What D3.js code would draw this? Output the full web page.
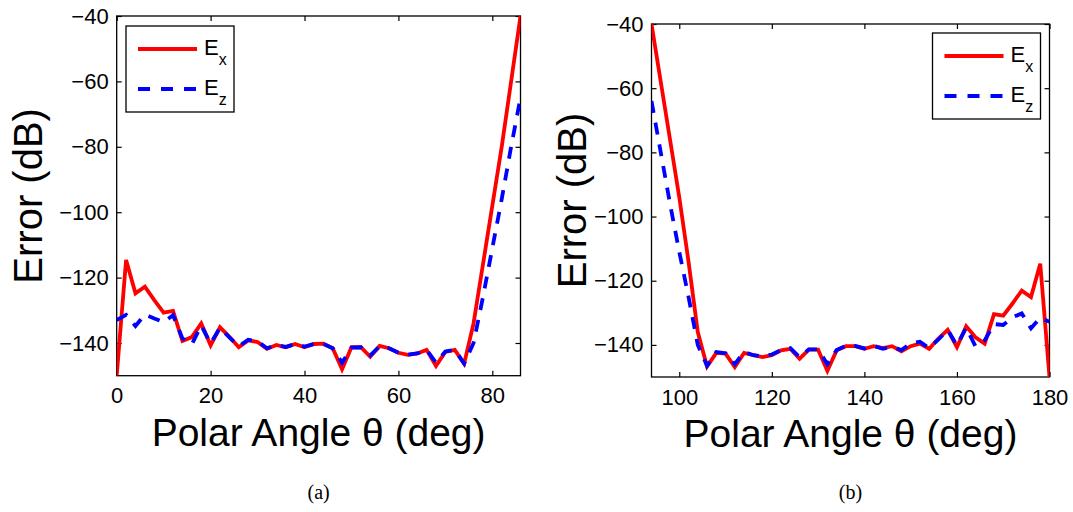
<!DOCTYPE html>
<html>
<head>
<meta charset="utf-8">
<script src="https://cdn.jsdelivr.net/npm/d3@7"></script>
<style>
  body { margin: 0; background: #fff; }
  svg { display: block; }
  .tick text { font-family: "Liberation Sans", Arial, sans-serif; font-size: 22px; fill: #000; }
  .domain, .tick line { stroke: #000; stroke-width: 1.2; }
</style>
</head>
<body>
<script>
// polar angle samples (deg) and error values (dB)
const thetaA = [0, 2, 4, 6, 8, 10, 12, 14, 16, 18, 20, 22, 24, 26, 28, 30, 32, 34, 36, 38, 40, 42,
  44, 46, 48, 50, 52, 54, 56, 58, 60, 62, 64, 66, 68, 70, 72, 74, 76, 78, 80, 82, 84, 86];
const exA = [-150, -114.6, -124.8, -122.8, -126.9, -130.7, -130.2, -139.4, -138.2, -134, -140.7, -135.2,
  -138.1, -141.3, -139.2, -139.7, -141.8, -140.6, -141.3, -140.3, -141.3, -140.3,
  -140.2, -141.6, -148, -141.3, -141.3, -144.2, -140.9, -141.6, -143, -143.6, -143.2, -142.1,
  -147, -142.7, -142.1, -146.3, -134, -116, -98, -80, -60, -40];
const ezA = [-133, -131.4, -134.8, -131.3, -132.5, -133.6, -131.5, -138.6, -140.4, -134.6, -140.2, -135.3,
  -138.3, -141, -139, -139.5, -141.6, -140.6, -141.2, -140.3, -141.1, -140.3,
  -140.3, -141.6, -146, -141.4, -141.3, -143.8, -141, -141.6, -143, -143.6, -143.2, -142.1,
  -146, -142.6, -142.1, -146.3, -140, -126, -111, -96, -80, -65];

const thetaB = [94, 96, 98, 100, 102, 104, 106, 108, 110, 112, 114, 116, 118, 120, 122, 124, 126, 128,
  130, 132, 134, 136, 138, 140, 142, 144, 146, 148, 150, 152, 154, 156, 158, 160, 162, 164,
  166, 168, 170, 172, 174, 176, 178, 180];
const exB = [-40, -58, -76, -94, -114, -136, -146.7, -142.5, -142.7, -146.9, -142.5, -143.2, -143.8,
  -143.2, -141.7, -141.2, -144.3, -141.5, -141.5, -148.1, -141.7, -140.4, -140.4, -141.2,
  -140.4, -141, -140.4, -142, -140.4, -139.6, -141.2, -138, -135.3, -140.7, -134.2, -137.6,
  -139.6, -130.4, -130.9, -127.1, -123.1, -125.1, -114.7, -150];
const ezB = [-64, -80, -96, -111, -125, -140, -146.5, -142.2, -142.6, -146, -142.2, -143.2, -143.6,
  -143, -141.6, -141, -143.8, -141.4, -141.4, -146, -141.6, -140.3, -140.3, -141.1,
  -140.3, -141.2, -140.6, -141.6, -139.5, -139, -141, -138.3, -135.3, -140.2, -134.6, -140.4,
  -138.6, -133.5, -133.8, -131.4, -130.2, -134.8, -131.5, -132.8];

const yTicks = [-140, -120, -100, -80, -60, -40];
const xTicksA = [0, 20, 40, 60, 80];
const xTicksB = [100, 120, 140, 160, 180];
const seriesNames = ["x", "z"];

const svg = d3.select("body").append("svg")
  .attr("width", 1073)
  .attr("height", 512);

const fmt = d3.format("d");

function drawPanel(p) {
  const x = d3.scaleLinear().domain(p.xDomain).range([p.left, p.right]);
  const y = d3.scaleLinear().domain([-150, -40]).range([p.bottom, p.top]);
  const g = svg.append("g");

  g.append("clipPath").attr("id", "clip" + p.id)
    .append("rect")
    .attr("x", p.left).attr("y", p.top)
    .attr("width", p.right - p.left).attr("height", p.bottom - p.top);

  // axes, ticks point inward like matlab
  g.append("g").attr("transform", "translate(0," + p.bottom + ")")
    .call(d3.axisBottom(x).tickValues(p.xTicks).tickSize(-5).tickPadding(12).tickFormat(fmt));
  g.append("g").attr("transform", "translate(0," + p.top + ")")
    .call(d3.axisTop(x).tickValues(p.xTicks).tickSize(-5).tickFormat(""));
  g.append("g").attr("transform", "translate(" + p.left + ",0)")
    .call(d3.axisLeft(y).tickValues(yTicks).tickSize(-5).tickPadding(8).tickFormat(fmt));
  g.append("g").attr("transform", "translate(" + p.right + ",0)")
    .call(d3.axisRight(y).tickValues(yTicks).tickSize(-5).tickFormat(""));
  g.selectAll(".domain").attr("d", null);
  g.append("rect")
    .attr("x", p.left).attr("y", p.top)
    .attr("width", p.right - p.left).attr("height", p.bottom - p.top)
    .attr("fill", "none").attr("stroke", "#000").attr("stroke-width", 1.3);

  const line = d3.line()
    .x(d => x(d[0]))
    .y(d => y(d[1]));

  g.append("path")
    .datum(p.theta.map((t, i) => [t, p.ex[i]]))
    .attr("clip-path", "url(#clip" + p.id + ")")
    .attr("d", line)
    .attr("fill", "none").attr("stroke", "#ff0000").attr("stroke-width", 3.8)
    .attr("stroke-linejoin", "miter");
  g.append("path")
    .datum(p.theta.map((t, i) => [t, p.ez[i]]))
    .attr("clip-path", "url(#clip" + p.id + ")")
    .attr("d", line)
    .attr("fill", "none").attr("stroke", "#0000ff").attr("stroke-width", 3.8)
    .attr("stroke-dasharray", "12,10");

  // axis labels
  g.append("text")
    .attr("x", (p.left + p.right) / 2).attr("y", p.bottom + 70)
    .attr("text-anchor", "middle")
    .style("font-family", "Liberation Sans, Arial, sans-serif").style("font-size", "39px")
    .text("Polar Angle θ (deg)");
  g.append("text")
    .attr("transform", "translate(" + p.ylabX + "," + (p.top + p.bottom) / 2 + ") rotate(-90)")
    .attr("text-anchor", "middle")
    .style("font-family", "Liberation Sans, Arial, sans-serif").style("font-size", "40px")
    .text("Error (dB)");

  // caption
  g.append("text")
    .attr("x", (p.left + p.right) / 2).attr("y", 499)
    .attr("text-anchor", "middle")
    .style("font-family", "Liberation Serif, DejaVu Serif, serif").style("font-size", "20px")
    .text(p.caption);

  // legend
  const lg = g.append("g").attr("transform", "translate(" + p.legX + "," + p.legY + ")");
  lg.append("rect").attr("width", 108).attr("height", 86)
    .attr("fill", "#fff").attr("stroke", "#000").attr("stroke-width", 1.3);
  const rows = [
    { color: "#ff0000", dash: null, y: 23 },
    { color: "#0000ff", dash: "12,11", y: 63 }
  ];
  rows.forEach((r, i) => {
    lg.append("line")
      .attr("x1", 12).attr("x2", 71).attr("y1", r.y).attr("y2", r.y)
      .attr("stroke", r.color).attr("stroke-width", 3.8)
      .attr("stroke-dasharray", r.dash);
    const t = lg.append("text")
      .attr("x", 78).attr("y", r.y + 6)
      .style("font-family", "Liberation Sans, Arial, sans-serif").style("font-size", "22px");
    t.append("tspan").text("E");
    t.append("tspan").attr("dy", 10).style("font-size", "16px").text(seriesNames[i]);
  });
}

drawPanel({
  id: "a", theta: thetaA, ex: exA, ez: ezA, xDomain: [0, 86], xTicks: xTicksA,
  left: 116.7, right: 520.5, top: 16, bottom: 375.7,
  ylabX: 42, caption: "(a)", legX: 126, legY: 26
});
drawPanel({
  id: "b", theta: thetaB, ex: exB, ez: ezB, xDomain: [94, 180], xTicks: xTicksB,
  left: 651.5, right: 1049.5, top: 24, bottom: 377,
  ylabX: 586, caption: "(b)", legX: 932.5, legY: 33
});
</script>
</body>
</html>
